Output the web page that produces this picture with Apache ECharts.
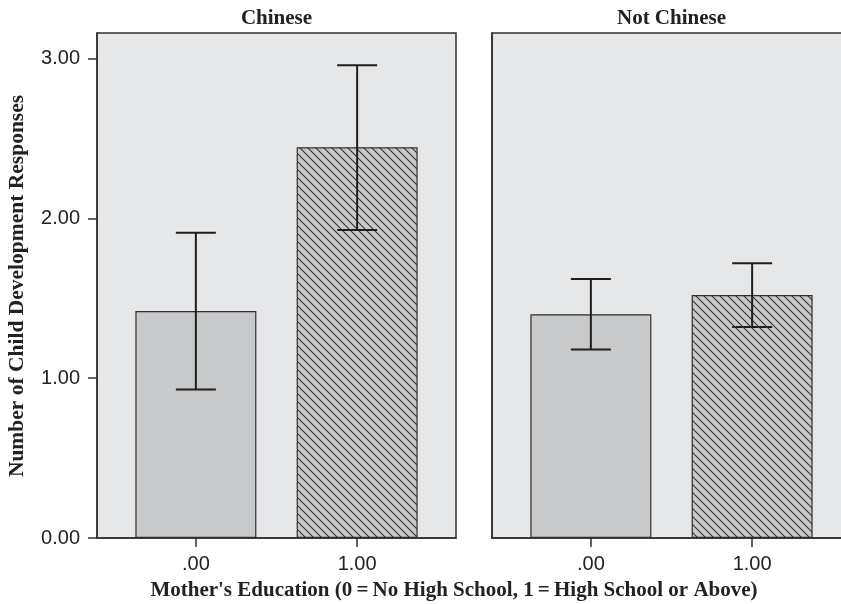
<!DOCTYPE html>
<html>
<head>
<meta charset="utf-8">
<script src="https://cdn.jsdelivr.net/npm/echarts@6/dist/echarts.min.js"></script>
<style>
html,body{margin:0;padding:0;background:#fff;overflow:hidden;}
#chart{width:841px;height:604px;}
</style>
</head>
<body>
<div id="chart"></div>
<script>
// ---- data ----
const panels = ['Chinese', 'Not Chinese'];
const categories = [0, 1];
const xTickLabels = ['.00', '1.00'];
const yTicks = [0, 1, 2, 3];
const yTickLabels = ['0.00', '1.00', '2.00', '3.00'];
const chineseMeans = [1.42, 2.445];
const chineseLow = [0.93, 1.927];
const chineseHigh = [1.91, 2.958];
const notChineseMeans = [1.40, 1.52];
const notChineseLow = [1.18, 1.32];
const notChineseHigh = [1.62, 1.72];
const xTitle = "Mother's Education (0\u2009=\u2009No High School, 1\u2009=\u2009High School or Above)";
const yTitle = 'Number of Child Development Responses';

// ---- styles ----
const BAR = '#c8c9cb';
const LINE = '#2f2f2f';
const BG = '#e6e7e9';

function hatchCanvas() {
  const s = 8;
  const c = document.createElement('canvas');
  c.width = s; c.height = s;
  const g = c.getContext('2d');
  g.fillStyle = BAR;
  g.fillRect(0, 0, s, s);
  g.strokeStyle = '#333333';
  g.lineWidth = 1.1;
  g.beginPath();
  g.moveTo(-1, -1); g.lineTo(s + 1, s + 1);
  g.moveTo(-2, s - 2); g.lineTo(2, s + 2);
  g.moveTo(s - 2, -2); g.lineTo(s + 2, 2);
  g.stroke();
  return c;
}
const hatch = { image: hatchCanvas(), repeat: 'repeat' };

const gridTop = 33, gridH = 505, gridW = 359;
const grids = [
  { left: 97, top: gridTop, width: gridW, height: gridH },
  { left: 492, top: gridTop, width: gridW, height: gridH }
];

const xMin = -0.613, xMax = 1.613;
const yMax = 3.16;

function xAxis(i) {
  return {
    type: 'value', gridIndex: i, min: xMin, max: xMax,
    axisLine: { show: true, onZero: false, lineStyle: { color: LINE, width: 1.5 } },
    axisTick: { show: true, customValues: categories, length: 9, lineStyle: { color: LINE, width: 1.5 } },
    axisLabel: {
      customValues: categories, margin: 16,
      formatter: v => xTickLabels[categories.indexOf(Math.round(v))],
      fontFamily: 'Liberation Sans', fontSize: 20, color: '#222'
    },
    splitLine: { show: false }
  };
}
function yAxis(i) {
  return {
    type: 'value', gridIndex: i, min: 0, max: yMax,
    axisLine: { show: true, onZero: false, lineStyle: { color: LINE, width: 1.5 } },
    axisTick: { show: i === 0, customValues: yTicks, length: 9, lineStyle: { color: LINE, width: 1.5 } },
    axisLabel: {
      show: i === 0, customValues: yTicks, margin: 17,
      formatter: v => yTickLabels[yTicks.indexOf(Math.round(v))],
      fontFamily: 'Liberation Sans', fontSize: 20, color: '#222'
    },
    splitLine: { show: false }
  };
}

function barSeries(i, means) {
  return {
    type: 'bar', xAxisIndex: i, yAxisIndex: i, barWidth: 121,
    data: categories.map((c, k) => ({
      value: [c, means[k]],
      itemStyle: { color: k === 1 ? hatch : BAR, borderColor: LINE, borderWidth: 1.2 }
    })),
    silent: true
  };
}
function errSeries(i, low, high) {
  return {
    type: 'custom', xAxisIndex: i, yAxisIndex: i, z: 10,
    data: categories.map((c, k) => [c, low[k], high[k]]),
    renderItem: function (params, api) {
      const lo = api.coord([api.value(0), api.value(1)]);
      const hi = api.coord([api.value(0), api.value(2)]);
      const hw = 20;
      const st = { stroke: '#1e1e1e', lineWidth: 2 };
      return {
        type: 'group',
        children: [
          { type: 'line', shape: { x1: lo[0], y1: lo[1], x2: hi[0], y2: hi[1] }, style: st },
          { type: 'line', shape: { x1: lo[0] - hw, y1: lo[1], x2: lo[0] + hw, y2: lo[1] }, style: st },
          { type: 'line', shape: { x1: hi[0] - hw, y1: hi[1], x2: hi[0] + hw, y2: hi[1] }, style: st }
        ]
      };
    }
  };
}

const chart = echarts.init(document.getElementById('chart'), null, { renderer: 'canvas' });
chart.setOption({
  animation: false,
  backgroundColor: '#ffffff',
  grid: grids.map(g => Object.assign({ show: true, backgroundColor: BG, borderColor: LINE, borderWidth: 1.5, outerBoundsMode: 'none', containLabel: false }, g)),
  xAxis: [xAxis(0), xAxis(1)],
  yAxis: [yAxis(0), yAxis(1)],
  series: [
    barSeries(0, chineseMeans), errSeries(0, chineseLow, chineseHigh),
    barSeries(1, notChineseMeans), errSeries(1, notChineseLow, notChineseHigh)
  ],
  graphic: [
    { type: 'text', x: 97 + gridW / 2, y: 19, style: { text: panels[0], align: 'center', verticalAlign: 'middle', fontFamily: 'Liberation Serif', fontWeight: 'bold', fontSize: 21, fill: '#222' } },
    { type: 'text', x: 492 + gridW / 2, y: 19, style: { text: panels[1], align: 'center', verticalAlign: 'middle', fontFamily: 'Liberation Serif', fontWeight: 'bold', fontSize: 21, fill: '#222' } },
    { type: 'text', x: 454, y: 591, style: { text: xTitle, align: 'center', verticalAlign: 'middle', fontFamily: 'Liberation Serif', fontWeight: 'bold', fontSize: 21, fill: '#222' } },
    { type: 'text', x: 17, y: 286, rotation: Math.PI / 2, style: { text: yTitle, align: 'center', verticalAlign: 'middle', fontFamily: 'Liberation Serif', fontWeight: 'bold', fontSize: 21.5, fill: '#222' } }
  ]
});
</script>
</body>
</html>
